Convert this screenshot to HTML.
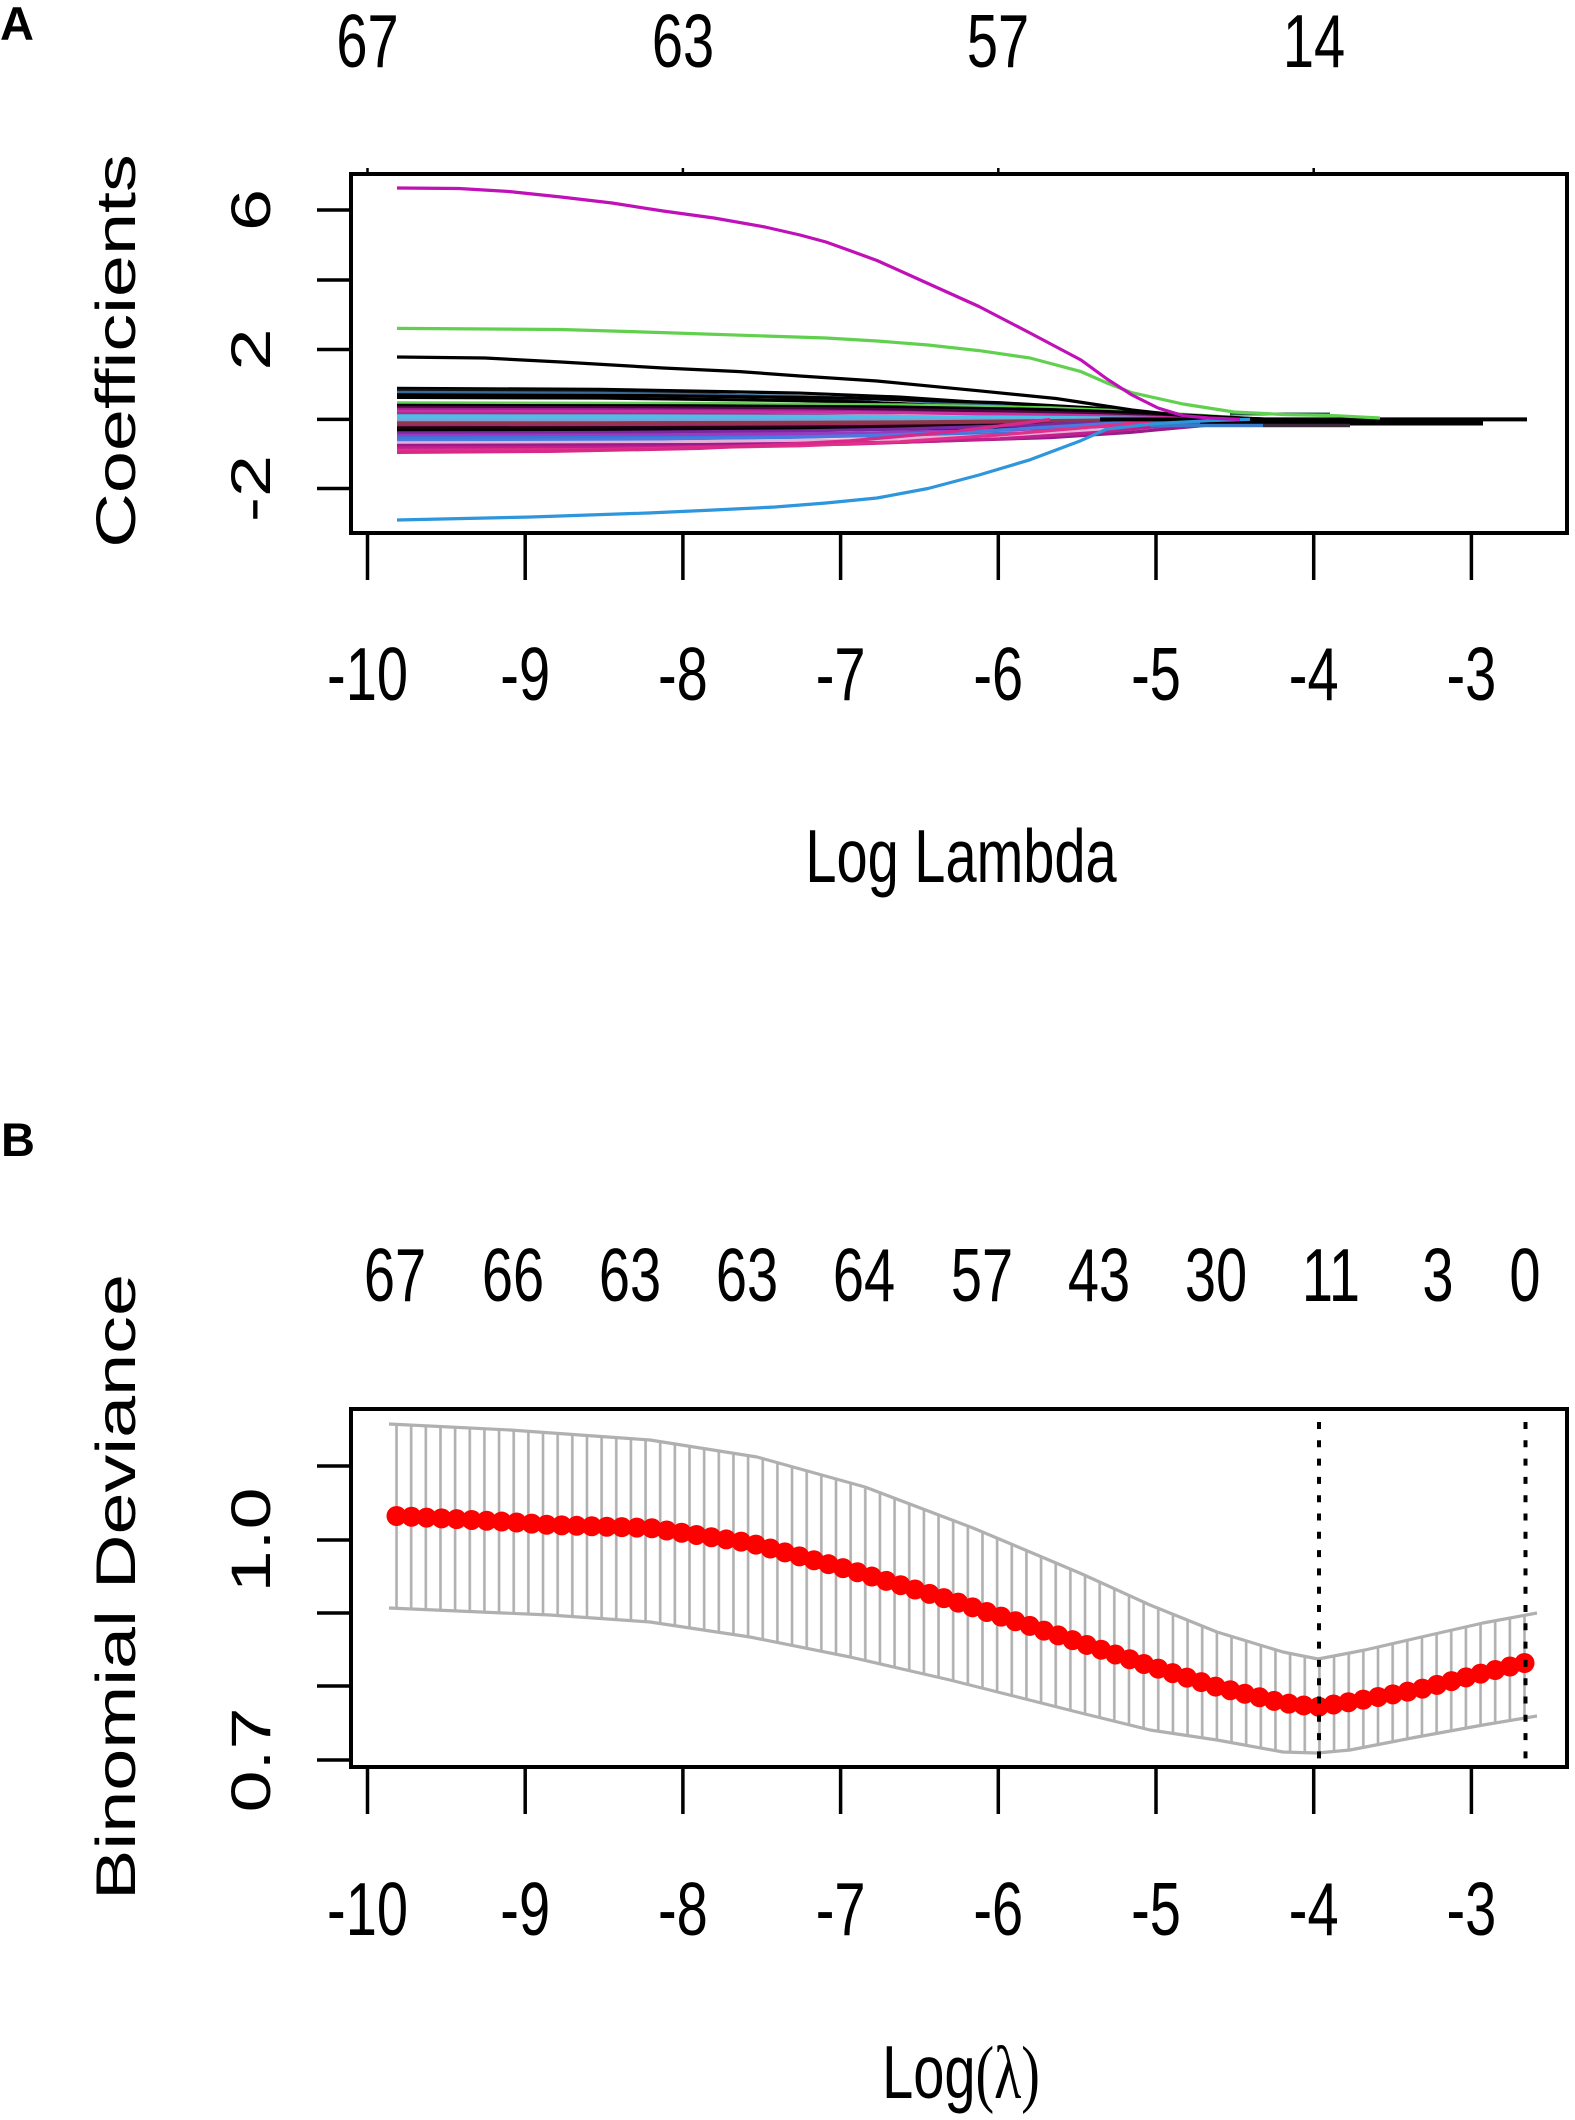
<!DOCTYPE html>
<html><head><meta charset="utf-8"><style>
html,body{margin:0;padding:0;background:#fff;}
svg{display:block;}
text{font-family:"Liberation Sans",Arial,sans-serif;font-size:56px;fill:#000;}
</style></head><body>
<svg width="1575" height="2120" viewBox="0 0 1575 2120" xmlns="http://www.w3.org/2000/svg">
<defs>
<pattern id="eb" patternUnits="userSpaceOnUse" x="1517.175" y="0" width="14.649" height="2120">
<line x1="7.325" y1="0" x2="7.325" y2="2120" stroke="#b0b0b0" stroke-width="2.6"/>
</pattern>
</defs>
<rect width="1575" height="2120" fill="#fff"/>

<!-- Panel labels -->
<text x="0" y="40" style="font-size:47px;font-weight:bold">A</text>
<text x="1" y="1156" style="font-size:47px;font-weight:bold">B</text>

<!-- ============ PANEL A ============ -->
<g fill="none" stroke-width="3.2" stroke-linejoin="round">
<path vector-effect="non-scaling-stroke" stroke="#000" transform="translate(0,419.4) scale(1,31)" d="M397,-1 L600,-0.97 L800,-0.85 L900,-0.72 L1000,-0.5 L1080,-0.28 L1140,-0.1 L1170,0 L1180,0"/>
<path vector-effect="non-scaling-stroke" stroke="#101010" transform="translate(0,419.4) scale(1,29)" d="M397,-1 L550,-0.97 L700,-0.88 L850,-0.65 L950,-0.38 L1020,-0.12 L1050,0"/>
<path vector-effect="non-scaling-stroke" stroke="#3a6a9a" transform="translate(0,419.4) scale(1,27)" d="M397,-1 L600,-0.97 L800,-0.85 L900,-0.72 L1000,-0.5 L1080,-0.28 L1140,-0.1 L1170,0 L1180,0"/>
<path vector-effect="non-scaling-stroke" stroke="#000" transform="translate(0,419.4) scale(1,24.5)" d="M397,-1 L650,-0.97 L850,-0.87 L1000,-0.68 L1100,-0.45 L1170,-0.2 L1210,-0.05 L1225,0"/>
<path vector-effect="non-scaling-stroke" stroke="#000" transform="translate(0,419.4) scale(1,22)" d="M397,-1 L600,-0.97 L800,-0.85 L900,-0.72 L1000,-0.5 L1080,-0.28 L1140,-0.1 L1170,0 L1180,0"/>
<path vector-effect="non-scaling-stroke" stroke="#61D04F" transform="translate(0,419.4) scale(1,16.5)" d="M397,-1 L700,-0.97 L900,-0.88 L1050,-0.7 L1130,-0.5 L1200,-0.25 L1250,-0.06 L1270,0"/>
<path vector-effect="non-scaling-stroke" stroke="#000" transform="translate(0,419.4) scale(1,14)" d="M397,-1 L700,-0.97 L900,-0.88 L1050,-0.7 L1130,-0.5 L1200,-0.25 L1250,-0.06 L1270,0"/>
<path vector-effect="non-scaling-stroke" stroke="#4a0a40" transform="translate(0,419.4) scale(1,12)" d="M397,-1 L650,-0.97 L850,-0.87 L1000,-0.68 L1100,-0.45 L1170,-0.2 L1210,-0.05 L1225,0"/>
<path vector-effect="non-scaling-stroke" stroke="#a0209a" transform="translate(0,419.4) scale(1,10)" d="M397,-1 L600,-0.97 L800,-0.85 L900,-0.72 L1000,-0.5 L1080,-0.28 L1140,-0.1 L1170,0 L1180,0"/>
<path vector-effect="non-scaling-stroke" stroke="#c8329e" transform="translate(0,419.4) scale(1,8)" d="M397,-1 L650,-0.97 L850,-0.87 L1000,-0.68 L1100,-0.45 L1170,-0.2 L1210,-0.05 L1225,0"/>
<path vector-effect="non-scaling-stroke" stroke="#b02a8a" transform="translate(0,419.4) scale(1,5.5)" d="M397,-1 L550,-0.97 L700,-0.88 L850,-0.65 L950,-0.38 L1020,-0.12 L1050,0"/>
<path vector-effect="non-scaling-stroke" stroke="#3cc8e8" transform="translate(0,419.4) scale(1,3.5)" d="M397,-1 L650,-0.97 L850,-0.87 L1000,-0.68 L1100,-0.45 L1170,-0.2 L1210,-0.05 L1225,0"/>
<path vector-effect="non-scaling-stroke" stroke="#58b8e8" transform="translate(0,419.4) scale(1,1.5)" d="M397,-1 L700,-0.97 L900,-0.88 L1050,-0.7 L1130,-0.5 L1200,-0.25 L1250,-0.06 L1270,0"/>
<path vector-effect="non-scaling-stroke" stroke="#7fa0d8" transform="translate(0,419.4) scale(1,-1)" d="M397,-1 L650,-0.97 L850,-0.87 L1000,-0.68 L1100,-0.45 L1170,-0.2 L1210,-0.05 L1225,0"/>
<path vector-effect="non-scaling-stroke" stroke="#8b3a4a" transform="translate(0,419.4) scale(1,-3.5)" d="M397,-1 L600,-0.97 L800,-0.85 L900,-0.72 L1000,-0.5 L1080,-0.28 L1140,-0.1 L1170,0 L1180,0"/>
<path vector-effect="non-scaling-stroke" stroke="#a02a5a" transform="translate(0,419.4) scale(1,-6)" d="M397,-1 L700,-0.97 L900,-0.88 L1050,-0.7 L1130,-0.5 L1200,-0.25 L1250,-0.06 L1270,0"/>
<path vector-effect="non-scaling-stroke" stroke="#1a0010" transform="translate(0,419.4) scale(1,-8.5)" d="M397,-1 L650,-0.97 L850,-0.87 L1000,-0.68 L1100,-0.45 L1170,-0.2 L1210,-0.05 L1225,0"/>
<path vector-effect="non-scaling-stroke" stroke="#000" transform="translate(0,419.4) scale(1,-11)" d="M397,-1 L700,-0.97 L900,-0.88 L1050,-0.7 L1130,-0.5 L1200,-0.25 L1250,-0.06 L1270,0"/>
<path vector-effect="non-scaling-stroke" stroke="#7a2aa0" transform="translate(0,419.4) scale(1,-13.5)" d="M397,-1 L600,-0.97 L800,-0.85 L900,-0.72 L1000,-0.5 L1080,-0.28 L1140,-0.1 L1170,0 L1180,0"/>
<path vector-effect="non-scaling-stroke" stroke="#9a3ac0" transform="translate(0,419.4) scale(1,-16)" d="M397,-1 L650,-0.97 L850,-0.87 L1000,-0.68 L1100,-0.45 L1170,-0.2 L1210,-0.05 L1225,0"/>
<path vector-effect="non-scaling-stroke" stroke="#3a78d8" transform="translate(0,419.4) scale(1,-18.5)" d="M397,-1 L700,-0.97 L900,-0.88 L1050,-0.7 L1130,-0.5 L1200,-0.25 L1250,-0.06 L1270,0"/>
<path vector-effect="non-scaling-stroke" stroke="#4a7ae0" transform="translate(0,419.4) scale(1,-21)" d="M397,-1 L600,-0.97 L800,-0.85 L900,-0.72 L1000,-0.5 L1080,-0.28 L1140,-0.1 L1170,0 L1180,0"/>
<path vector-effect="non-scaling-stroke" stroke="#e8b0d8" transform="translate(0,419.4) scale(1,-23.5)" d="M397,-1 L650,-0.97 L850,-0.87 L1000,-0.68 L1100,-0.45 L1170,-0.2 L1210,-0.05 L1225,0"/>
<path vector-effect="non-scaling-stroke" stroke="#9a1a8a" transform="translate(0,419.4) scale(1,-26)" d="M397,-1 L700,-0.97 L900,-0.88 L1050,-0.7 L1130,-0.5 L1200,-0.25 L1250,-0.06 L1270,0"/>
<path vector-effect="non-scaling-stroke" stroke="#c0208e" transform="translate(0,419.4) scale(1,-28.5)" d="M397,-1 L650,-0.97 L850,-0.87 L1000,-0.68 L1100,-0.45 L1170,-0.2 L1210,-0.05 L1225,0"/>
<path vector-effect="non-scaling-stroke" stroke="#e0308a" transform="translate(0,419.4) scale(1,-31)" d="M397,-1 L600,-0.97 L800,-0.85 L900,-0.72 L1000,-0.5 L1080,-0.28 L1140,-0.1 L1170,0 L1180,0"/>
<path vector-effect="non-scaling-stroke" stroke="#d8288a" transform="translate(0,419.4) scale(1,-33)" d="M397,-1 L550,-0.97 L700,-0.88 L850,-0.65 L950,-0.38 L1020,-0.12 L1050,0"/>
</g>

<line x1="1100" y1="419.4" x2="1527" y2="419.4" stroke="#000" stroke-width="4"/>
<line x1="1200" y1="423" x2="1483" y2="423" stroke="#000" stroke-width="5"/>
<line x1="1150" y1="425.5" x2="1263" y2="425.5" stroke="#3a78c8" stroke-width="3.5"/>
<line x1="1263" y1="425.5" x2="1350" y2="425.5" stroke="#3a2a3a" stroke-width="3.5"/>
<line x1="1230" y1="414" x2="1330" y2="414" stroke="#2a5a50" stroke-width="3"/>

<g fill="none" stroke-width="3.2" stroke-linejoin="round">
<polyline stroke="#000" points="397,357 485,358 561,362 663,368 740,371.6 800,376 877,381 979,390.8 1056,398.5 1132,410 1183,415.7 1234,417.6 1270,419.4"/>
<polyline stroke="#61D04F" points="397,328.4 561,329.5 663,332.6 765,336 826,338 877,341 928,345 979,350.6 1030,358 1081,371.6 1107,383 1132,392.7 1183,404 1234,412 1285,414.6 1336,415.7 1380,418"/>
<polyline stroke="#2E96DC" points="397,520 531,517 648,513 714,510 775,507 826,503 877,498 928,488.5 979,475 1030,459.8 1081,440.6 1107,429 1158,423.4 1209,420.7 1250,419.4"/>
<polyline stroke="#C010B8" points="397,188 459,188.5 510,191.6 561,197 612,203 663,211 714,218 765,227 800,235 826,242 851,251 877,260.5 928,283.5 979,306.5 1030,333 1081,360 1107,379 1132,395 1158,408 1183,415.7 1209,418 1240,419.4"/>
</g>

<rect x="351" y="174" width="1216" height="359" fill="none" stroke="#000" stroke-width="4"/>
<g stroke="#000" stroke-width="3.5">
<line x1="367.5" y1="535" x2="367.5" y2="580"/>
<line x1="525.2" y1="535" x2="525.2" y2="580"/>
<line x1="682.9" y1="535" x2="682.9" y2="580"/>
<line x1="840.6" y1="535" x2="840.6" y2="580"/>
<line x1="998.3" y1="535" x2="998.3" y2="580"/>
<line x1="1156" y1="535" x2="1156" y2="580"/>
<line x1="1313.7" y1="535" x2="1313.7" y2="580"/>
<line x1="1471.4" y1="535" x2="1471.4" y2="580"/>
<line x1="317" y1="210" x2="351" y2="210"/>
<line x1="317" y1="280" x2="351" y2="280"/>
<line x1="317" y1="349.5" x2="351" y2="349.5"/>
<line x1="317" y1="419.4" x2="351" y2="419.4"/>
<line x1="317" y1="488.5" x2="351" y2="488.5"/>
<line x1="367.5" y1="168" x2="367.5" y2="174" stroke-width="2.5"/>
<line x1="682.9" y1="168" x2="682.9" y2="174" stroke-width="2.5"/>
<line x1="998.3" y1="168" x2="998.3" y2="174" stroke-width="2.5"/>
<line x1="1313.7" y1="168" x2="1313.7" y2="174" stroke-width="2.5"/>
</g>

<g text-anchor="middle">
<text transform="translate(367.5,67) scale(1,1.35)">67</text>
<text transform="translate(683,67) scale(1,1.35)">63</text>
<text transform="translate(998,67) scale(1,1.35)">57</text>
<text transform="translate(1314,67) scale(1,1.35)">14</text>

<text transform="translate(367.5,700) scale(1,1.35)">-10</text>
<text transform="translate(525.2,700) scale(1,1.35)">-9</text>
<text transform="translate(682.9,700) scale(1,1.35)">-8</text>
<text transform="translate(840.6,700) scale(1,1.35)">-7</text>
<text transform="translate(998.3,700) scale(1,1.35)">-6</text>
<text transform="translate(1156,700) scale(1,1.35)">-5</text>
<text transform="translate(1313.7,700) scale(1,1.35)">-4</text>
<text transform="translate(1471.4,700) scale(1,1.35)">-3</text>

<text transform="translate(961,882) scale(1,1.35)">Log Lambda</text>

<text transform="translate(270,210) scale(1,1.35) rotate(-90)">6</text>
<text transform="translate(270,349.5) scale(1,1.35) rotate(-90)">2</text>
<text transform="translate(270,488.5) scale(1,1.35) rotate(-90)">-2</text>

<text transform="translate(135,351) scale(1,1.35) rotate(-90)">Coefficients</text>
</g>

<!-- ============ PANEL B ============ -->
<polygon fill="url(#eb)" stroke="none" points="389,1424 510,1430 650,1440 757,1457 865,1487 973,1528 1030,1552 1082,1574 1150,1605 1217,1632 1283,1652 1318,1659 1365,1650 1417,1638 1483,1623 1537,1613 1537,1716 1483,1725 1417,1737 1350,1750 1317,1753 1283,1752 1217,1740 1150,1730 1081,1713 950,1680 850,1657 750,1637 650,1622 550,1615 389,1608"/>
<g fill="none" stroke="#b0b0b0" stroke-width="3.2" stroke-linejoin="round">
<polyline points="389,1424 510,1430 650,1440 757,1457 865,1487 973,1528 1030,1552 1082,1574 1150,1605 1217,1632 1283,1652 1318,1659 1365,1650 1417,1638 1483,1623 1537,1613"/>
<polyline points="389,1608 550,1615 650,1622 750,1637 850,1657 950,1680 1081,1713 1150,1730 1217,1740 1283,1752 1317,1753 1350,1750 1417,1737 1483,1725 1537,1716"/>
</g>

<path fill="none" stroke="#ff0000" stroke-width="20" stroke-linecap="round" stroke-dasharray="0 1" pathLength="77"
 d="M396.5,1516 L510,1522 L550,1525 L650,1528 L750,1543 L850,1570 L950,1600 L1030,1626 L1081,1643 L1150,1666 L1217,1687 L1283,1703 L1317,1707 L1350,1702 L1417,1690 L1483,1673 L1524.5,1663"/>

<g stroke="#000" stroke-width="4" stroke-dasharray="7 11.3">
<line x1="1319" y1="1422" x2="1319" y2="1766"/>
<line x1="1525.5" y1="1422" x2="1525.5" y2="1766"/>
</g>

<rect x="351" y="1409" width="1216" height="358" fill="none" stroke="#000" stroke-width="4"/>
<g stroke="#000" stroke-width="3.5">
<line x1="367.5" y1="1769" x2="367.5" y2="1814"/>
<line x1="525.2" y1="1769" x2="525.2" y2="1814"/>
<line x1="682.9" y1="1769" x2="682.9" y2="1814"/>
<line x1="840.6" y1="1769" x2="840.6" y2="1814"/>
<line x1="998.3" y1="1769" x2="998.3" y2="1814"/>
<line x1="1156" y1="1769" x2="1156" y2="1814"/>
<line x1="1313.7" y1="1769" x2="1313.7" y2="1814"/>
<line x1="1471.4" y1="1769" x2="1471.4" y2="1814"/>
<line x1="317" y1="1466" x2="351" y2="1466"/>
<line x1="317" y1="1540" x2="351" y2="1540"/>
<line x1="317" y1="1613" x2="351" y2="1613"/>
<line x1="317" y1="1686" x2="351" y2="1686"/>
<line x1="317" y1="1760" x2="351" y2="1760"/>
</g>

<g text-anchor="middle">
<text transform="translate(395,1301) scale(1,1.35)">67</text>
<text transform="translate(513,1301) scale(1,1.35)">66</text>
<text transform="translate(630,1301) scale(1,1.35)">63</text>
<text transform="translate(747,1301) scale(1,1.35)">63</text>
<text transform="translate(864,1301) scale(1,1.35)">64</text>
<text transform="translate(982,1301) scale(1,1.35)">57</text>
<text transform="translate(1099,1301) scale(1,1.35)">43</text>
<text transform="translate(1216,1301) scale(1,1.35)">30</text>
<text transform="translate(1331,1301) scale(1,1.35)">11</text>
<text transform="translate(1438,1301) scale(1,1.35)">3</text>
<text transform="translate(1525,1301) scale(1,1.35)">0</text>

<text transform="translate(367.5,1935) scale(1,1.35)">-10</text>
<text transform="translate(525.2,1935) scale(1,1.35)">-9</text>
<text transform="translate(682.9,1935) scale(1,1.35)">-8</text>
<text transform="translate(840.6,1935) scale(1,1.35)">-7</text>
<text transform="translate(998.3,1935) scale(1,1.35)">-6</text>
<text transform="translate(1156,1935) scale(1,1.35)">-5</text>
<text transform="translate(1313.7,1935) scale(1,1.35)">-4</text>
<text transform="translate(1471.4,1935) scale(1,1.35)">-3</text>

<text transform="translate(961,2098) scale(1,1.35)">Log<tspan style="font-family:'Liberation Serif',serif">(λ)</tspan></text>

<text transform="translate(270,1540) scale(1,1.35) rotate(-90)">1.0</text>
<text transform="translate(270,1760) scale(1,1.35) rotate(-90)">0.7</text>

<text transform="translate(135,1587) scale(1,1.35) rotate(-90)">Binomial Deviance</text>
</g>
</svg>
</body></html>
